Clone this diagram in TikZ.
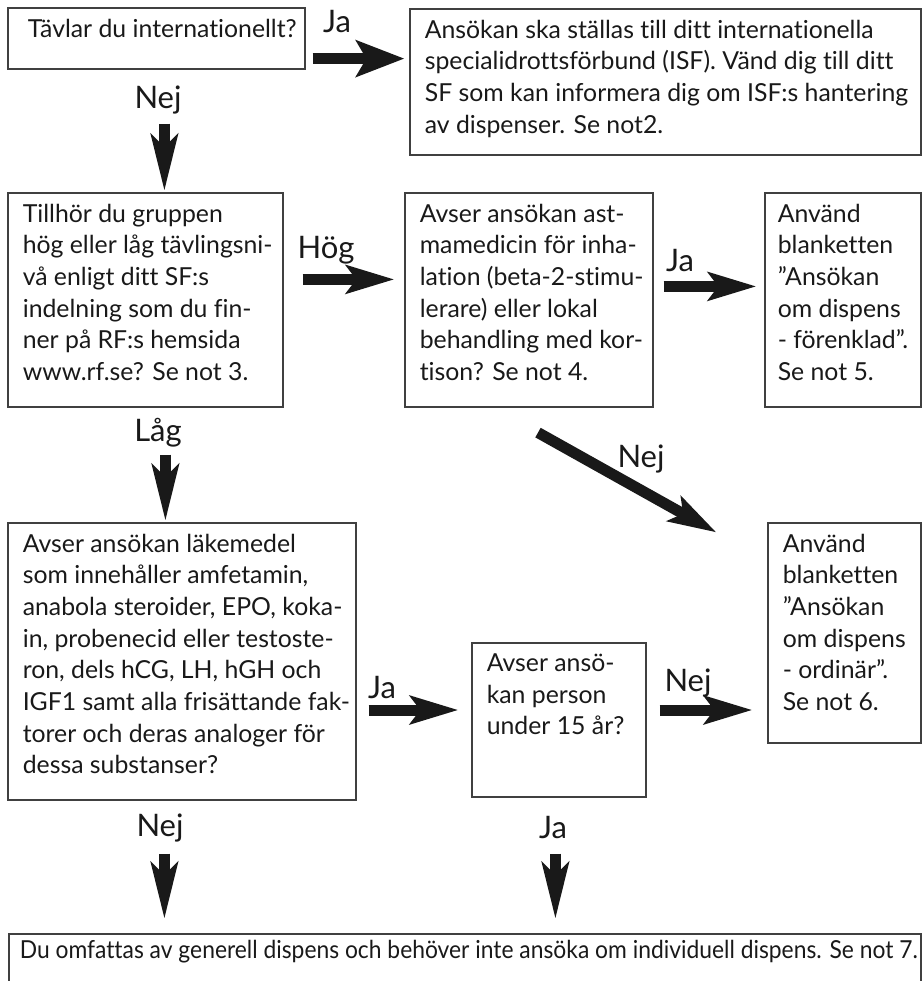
\documentclass[tikz,border=0pt]{standalone}
\usepackage{fontspec}
\setmainfont{Lato}[Ligatures=NoCommon]
\usepackage{graphicx}
\usetikzlibrary{calc,arrows.meta,fit,positioning}
\tikzset{
    ruta/.style={draw=black!75,line width=0.6pt,inner sep=0pt},
    rutatext/.style={anchor=north west,align=left,inner xsep=7.5pt,inner ysep=5.5pt,
        font=\fontsize{12.4}{15.85}\selectfont,text=black!90},
    etikett/.style={font=\fontsize{15.5}{18}\selectfont,inner sep=0pt,text=black!90},
    pil/.style={draw=black!90,line width=5.5pt,-{Stealth[length=24pt,width=14pt,inset=5pt]}},
    pilned/.style={draw=black!90,line width=5.5pt,-{Stealth[length=28pt,width=13pt,inset=6pt]}},
}
\begin{document}
\begin{tikzpicture}[x=0.5pt,y=-0.5pt]
    \clip (0,0) rectangle (923,981);

    % rutor
    \node [ruta,fit={(8,8) (305,69)}] (b1) {};
    \node [ruta,fit={(410,9) (921,155)}] (b2) {};
    \node [ruta,fit={(8,193) (283,407)}] (b3) {};
    \node [ruta,fit={(405,193) (653,407)}] (b5) {};
    \node [ruta,fit={(765,193) (921,407)}] (b6) {};
    \node [ruta,fit={(8,523) (356,800)}] (b4) {};
    \node [ruta,fit={(768,523) (921,743)}] (b7) {};
    \node [ruta,fit={(472,643) (646,797)}] (b8) {};
    \node [ruta,fit={(9,934) (921,995)}] (b9) {};

    % texter
    \node [rutatext,inner xsep=10pt] (t1) at (b1.north west) {Tävlar du internationellt?};
    \node [rutatext] (t2) at (b2.north west) {Ansökan ska ställas till ditt internationella\\
        specialidrottsförbund (ISF). Vänd dig till ditt\\
        SF som kan informera dig om ISF:s hantering\\
        av dispenser. Se not2.};
    \node [rutatext] (t3) at (b3.north west) {Tillhör du gruppen\\
        hög eller låg tävlingsni-\\
        vå enligt ditt SF:s\\
        indelning som du fin-\\
        ner på RF:s hemsida\\
        www.rf.se? Se not 3.};
    \node [rutatext] (t5) at (b5.north west) {Avser ansökan ast-\\
        mamedicin för inha-\\
        lation (beta-2-stimu-\\
        lerare) eller lokal\\
        behandling med kor-\\
        tison? Se not 4.};
    \node [rutatext,inner xsep=6.5pt] (t6) at (b6.north west) {Använd\\
        blanketten\\
        ”Ansökan\\
        om dispens\\
        - förenklad”.\\
        Se not 5.};
    \node [rutatext] (t4) at (b4.north west) {Avser ansökan läkemedel\\
        som innehåller amfetamin,\\
        anabola steroider, EPO, koka-\\
        in, probenecid eller testoste-\\
        ron, dels hCG, LH, hGH och\\
        IGF1 samt alla frisättande fak-\\
        torer och deras analoger för\\
        dessa substanser?};
    \node [rutatext] (t7) at (b7.north west) {Använd\\
        blanketten\\
        ”Ansökan\\
        om dispens\\
        - ordinär”.\\
        Se not 6.};
    \node [rutatext] (t8) at (b8.north west) {Avser ansö-\\
        kan person\\
        under 15 år?};
    \node [rutatext,inner xsep=5.5pt,inner ysep=3pt] (t9) at (b9.north west)
        {\resizebox{449pt}{\height}{Du omfattas av generell dispens och behöver inte ansöka om individuell dispens. Se not 7.}};

    % pilar
    \path [pil,-{Stealth[length=24pt,width=18pt,inset=5pt]}]
        ($(b1.south east)+(7,-11)$) -- ($(b2.west |- b1.south east)+(-5,-11)$);
    \path [pilned] ($(b1.south west)+(157,54)$) -- ($(b3.north west)+(157,-1)$);
    \path [pil] ($(b3.north east)+(19,87)$) -- ($(b5.north west)+(-10,87)$);
    \path [pil] ($(b5.north east)+(10,94)$) -- ($(b6.north west)+(-8,94)$);
    \path [pilned] ($(b3.south west)+(158,47)$) -- ($(b4.north west)+(158,-1)$);
    \path [pil] ($(b5.south)+(9,25)$) -- ($(b7.north west)+(-51,10)$);
    \path [pil] ($(b4.east |- b8.west)+(12,-10)$) -- ($(b8.west)+(-13,-10)$);
    \path [pil] ($(b8.east)+(13,-10)$) -- ($(b7.west |- b8.east)+(-15,-10)$);
    \path [pilned] ($(b4.south west)+(157,53)$) -- ($(b9.north west)+(156,-14)$);
    \path [pilned] ($(b8.south west)+(84,56)$) -- ($(b9.north west)+(547,-14)$);

    % etiketter
    \node [etikett] (lja1) at (337,22) {Ja};
    \node [etikett] (lnej1) at (158,100) {Nej};
    \node [etikett] (lhog) at (326,250) {Hög};
    \node [etikett] (lja2) at (680,261) {Ja};
    \node [etikett] (llag) at (158,433) {Låg};
    \node [etikett] (lnej2) at (641,459) {Nej};
    \node [etikett] (lja3) at (382,688) {Ja};
    \node [etikett] (lnej3) at (688,683) {Nej};
    \node [etikett] (lnej4) at (160,828) {Nej};
    \node [etikett] (lja4) at (553,828) {Ja};
\end{tikzpicture}
\end{document}
